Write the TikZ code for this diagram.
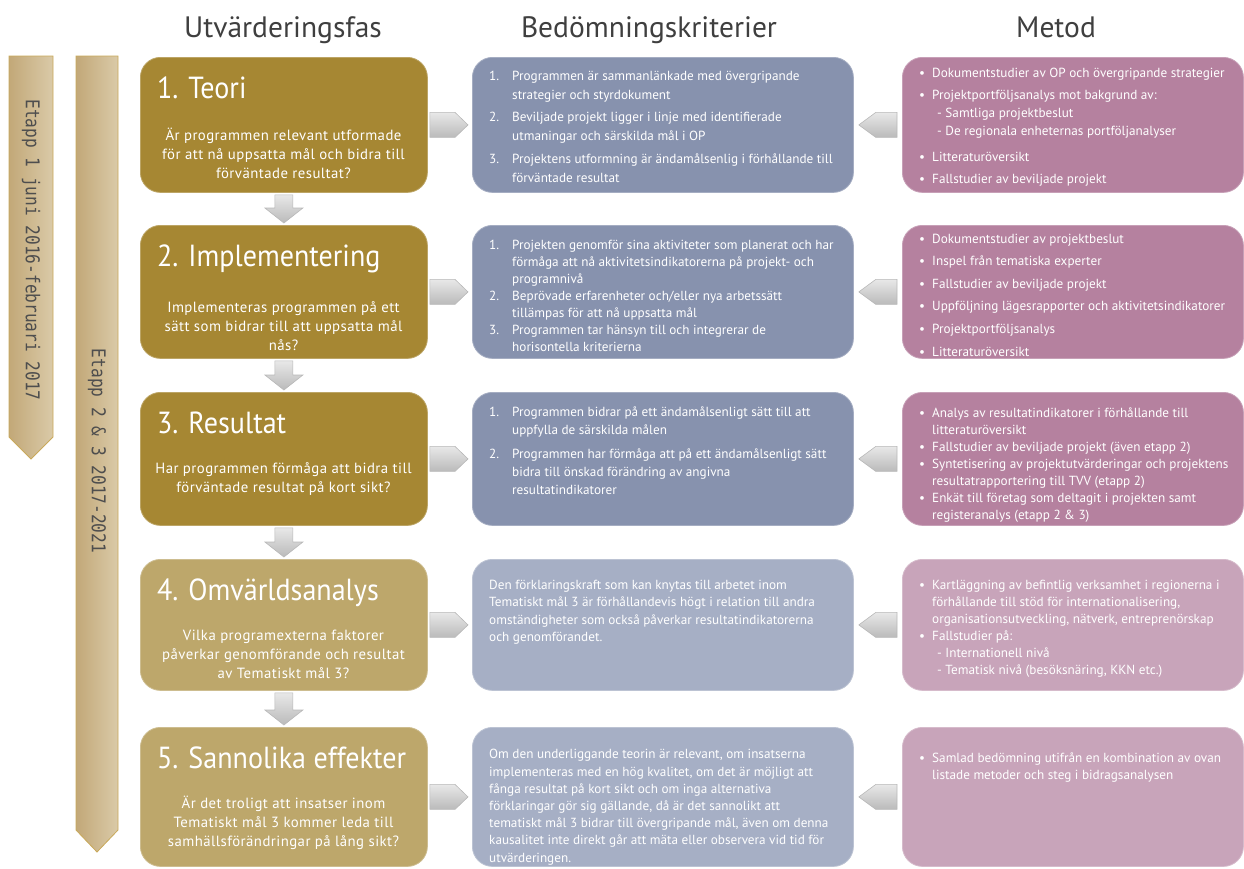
\documentclass[tikz,border=0pt]{standalone}
\usepackage{fontspec}
\setmainfont{PT Sans}
\newfontfamily\headfont{PT Sans}
\newfontfamily\titlefont[FakeStretch=0.92]{PT Sans}
\newfontfamily\askfont[LetterSpace=3]{PT Sans}
\newfontfamily\etappfont[FakeStretch=0.85]{DejaVu Sans Mono}
\usepackage{tikz}
\usetikzlibrary{calc}

\definecolor{goldA}{HTML}{A68733}
\definecolor{goldB}{HTML}{BDA76B}
\definecolor{blueA}{HTML}{8792AE}
\definecolor{blueB}{HTML}{A6AFC5}
\definecolor{mauveA}{HTML}{B5819F}
\definecolor{mauveB}{HTML}{C8A4BA}
\definecolor{tanA}{HTML}{C2A878}
\definecolor{tanB}{HTML}{DACAA8}
\definecolor{tanline}{HTML}{C9A95A}
\definecolor{headgray}{HTML}{3F3F3F}
\definecolor{etappgray}{HTML}{4E4E4E}

\newcommand{\crititem}[2]{\makebox[23pt][l]{#1}#2}
\newcommand{\critcont}[1]{\hspace*{23pt}#1}
\newcommand{\metitem}[1]{\makebox[13pt][l]{\textbullet}#1}
\newcommand{\metcont}[1]{\hspace*{13pt}#1}

\begin{document}
\begin{tikzpicture}[x=1pt,y=-1pt,
	phase/.style={rounded corners=20pt,anchor=north west,inner sep=0pt,line width=0.8pt,minimum width=287pt},
	crit/.style={rounded corners=20pt,anchor=north west,inner sep=0pt,line width=0.8pt,minimum width=381pt},
	meth/.style={rounded corners=20pt,anchor=north west,inner sep=0pt,line width=0.8pt,minimum width=341pt},
	goldbox/.style={fill=#1,draw=#1!75!white},
	head/.style={anchor=base,text=headgray,font=\headfont\fontsize{29.5}{29.5}\selectfont},
	phasetitle/.style={anchor=base west,inner sep=0pt,text=white,font=\titlefont\fontsize{30.5}{30.5}\selectfont},
	ask/.style={anchor=base,inner sep=0pt,align=center,text=white,font=\askfont\fontsize{14.8}{19}\selectfont},
	boxtext/.style={anchor=base west,inner sep=0pt,align=left,text=white,font=\fontsize{13.2}{#1}\selectfont},
	etapp/.style={draw=tanline,line width=0.8pt,left color=tanA,right color=tanB},
	etapptext/.style={rotate=-90,inner sep=0pt,text=etappgray,font=\etappfont\fontsize{19}{19}\selectfont},
	grayarrow/.style={top color=black!9,bottom color=black!27,draw=black!28,line width=0.6pt}]
	\useasboundingbox (0,0) rectangle (1244,868);
%
	\node[head] (h1) at (283,37) {Utvärderingsfas};
	\node[head] (h2) at (649,37) {Bedömningskriterier};
	\node[head] (h3) at (1056,37) {Metod};
%
	\path[etapp] (9,56) -- (53,56) -- (53,437) -- (31,459) -- (9,437) -- cycle;
	\path[etapp] (76,56) -- (118,56) -- (118,830) -- (97,852) -- (76,830) -- cycle;
	\node[etapptext] (e1) at (31,250) {Etapp 1 juni 2016-februari 2017};
	\node[etapptext] (e2) at (97,451) {Etapp 2 \& 3 2017-2021};
%
	\node[phase,goldbox=goldA,minimum height=135pt] (p1) at (140,57) {};
	\node[phase,goldbox=goldA,minimum height=133pt] (p2) at (140,225) {};
	\node[phase,goldbox=goldA,minimum height=133pt] (p3) at (140,392) {};
	\node[phase,goldbox=goldB,minimum height=131pt] (p4) at (140,559) {};
	\node[phase,goldbox=goldB,minimum height=139pt] (p5) at (140,727) {};
	\node[crit,goldbox=blueA,minimum height=135pt] (c1) at (472,57) {};
	\node[crit,goldbox=blueA,minimum height=133pt] (c2) at (472,225) {};
	\node[crit,goldbox=blueA,minimum height=133pt] (c3) at (472,392) {};
	\node[crit,goldbox=blueB,minimum height=131pt] (c4) at (472,559) {};
	\node[crit,goldbox=blueB,minimum height=139pt] (c5) at (472,727) {};
	\node[meth,goldbox=mauveA,minimum height=135pt] (m1) at (902,57) {};
	\node[meth,goldbox=mauveA,minimum height=133pt] (m2) at (902,225) {};
	\node[meth,goldbox=mauveA,minimum height=133pt] (m3) at (902,392) {};
	\node[meth,goldbox=mauveB,minimum height=131pt] (m4) at (902,559) {};
	\node[meth,goldbox=mauveB,minimum height=139pt] (m5) at (902,727) {};
%
	\node[phasetitle] (t1) at (157,98) {1. Teori};
	\node[phasetitle] (t2) at (157,266) {2. Implementering};
	\node[phasetitle] (t3) at (157,433) {3. Resultat};
	\node[phasetitle] (t4) at (157,600) {4. Omvärldsanalys};
	\node[phasetitle] (t5) at (157,768) {5. Sannolika effekter};
	% base of a multi-line node = last line
	\node[ask] (q1) at (283.5,178) {Är programmen relevant utformade\\för att nå uppsatta mål och bidra till\\förväntade resultat?};
	\node[ask] (q2) at (283.5,350) {Implementeras programmen på ett\\sätt som bidrar till att uppsatta mål\\nås?};
	\node[ask] (q3) at (283.5,492) {Har programmen förmåga att bidra till\\förväntade resultat på kort sikt?};
	\node[ask] (q4) at (283.5,678) {Vilka programexterna faktorer\\påverkar genomförande och resultat\\av Tematiskt mål 3?};
	\node[ask] (q5) at (283.5,846) {Är det troligt att insatser inom\\Tematiskt mål 3 kommer leda till\\samhällsförändringar på lång sikt?};
%
	\node[boxtext=19] (ct1) at (489,182) {\crititem{1.}{Programmen är sammanlänkade med övergripande}\\
		\critcont{strategier och styrdokument}\\[3.5pt]
		\crititem{2.}{Beviljade projekt ligger i linje med identifierade}\\
		\critcont{utmaningar och särskilda mål i OP}\\[3.5pt]
		\crititem{3.}{Projektens utformning är ändamålsenlig i förhållande till}\\
		\critcont{förväntade resultat}};
	\node[boxtext=17] (ct2) at (489,351) {\crititem{1.}{Projekten genomför sina aktiviteter som planerat och har}\\
		\critcont{förmåga att nå aktivitetsindikatorerna på projekt- och}\\
		\critcont{programnivå}\\
		\crititem{2.}{Beprövade erfarenheter och/eller nya arbetssätt}\\
		\critcont{tillämpas för att nå uppsatta mål}\\
		\crititem{3.}{Programmen tar hänsyn till och integrerar de}\\
		\critcont{horisontella kriterierna}};
	\node[boxtext=18] (ct3) at (489,494) {\crititem{1.}{Programmen bidrar på ett ändamålsenligt sätt till att}\\
		\critcont{uppfylla de särskilda målen}\\[6pt]
		\crititem{2.}{Programmen har förmåga att på ett ändamålsenligt sätt}\\
		\critcont{bidra till önskad förändring av angivna}\\
		\critcont{resultatindikatorer}};
	\node[boxtext=17.5] (ct4) at (489,641.5) {Den förklaringskraft som kan knytas till arbetet inom\\
		Tematiskt mål 3 är förhållandevis högt i relation till andra\\
		omständigheter som också påverkar resultatindikatorerna\\
		och genomförandet.};
	\node[boxtext=17.2] (ct5) at (489,862) {Om den underliggande teorin är relevant, om insatserna\\
		implementeras med en hög kvalitet, om det är möjligt att\\
		fånga resultat på kort sikt och om inga alternativa\\
		förklaringar gör sig gällande, då är det sannolikt att\\
		tematiskt mål 3 bidrar till övergripande mål, även om denna\\
		kausalitet inte direkt går att mäta eller observera vid tid för\\
		utvärderingen.};
%
	\node[boxtext=18] (mt1) at (919,183) {\metitem{Dokumentstudier av OP och övergripande strategier}\\[4pt]
		\metitem{Projektportföljsanalys mot bakgrund av:}\\
		\hspace*{18pt}- Samtliga projektbeslut\\
		\hspace*{18pt}- De regionala enheternas portföljanalyser\\[8pt]
		\metitem{Litteraturöversikt}\\[4pt]
		\metitem{Fallstudier av beviljade projekt}};
	\node[boxtext=22.6] (mt2) at (919,356) {\metitem{Dokumentstudier av projektbeslut}\\
		\metitem{Inspel från tematiska experter}\\
		\metitem{Fallstudier av beviljade projekt}\\
		\metitem{Uppföljning lägesrapporter och aktivitetsindikatorer}\\
		\metitem{Projektportföljsanalys}\\
		\metitem{Litteraturöversikt}};
	\node[boxtext=17] (mt3) at (919,519) {\metitem{Analys av resultatindikatorer i förhållande till}\\
		\metcont{litteraturöversikt}\\
		\metitem{Fallstudier av beviljade projekt (även etapp 2)}\\
		\metitem{Syntetisering av projektutvärderingar och projektens}\\
		\metcont{resultatrapportering till TVV (etapp 2)}\\
		\metitem{Enkät till företag som deltagit i projekten samt}\\
		\metcont{registeranalys (etapp 2 \& 3)}};
	\node[boxtext=17] (mt4) at (919,674) {\metitem{Kartläggning av befintlig verksamhet i regionerna i}\\
		\metcont{förhållande till stöd för internationalisering,}\\
		\metcont{organisationsutveckling, nätverk, entreprenörskap}\\
		\metitem{Fallstudier på:}\\
		\hspace*{18pt}- Internationell nivå\\
		\hspace*{18pt}- Tematisk nivå (besöksnäring, KKN etc.)};
	\node[boxtext=17] (mt5) at (919,779) {\metitem{Samlad bedömning utifrån en kombination av ovan}\\
		\metcont{listade metoder och steg i bidragsanalysen}};
%
	\foreach \i in {1,...,5}{
		\path[grayarrow] ($(p\i.east)+(2,-12.5)$) -- ($(c\i.west)+(-17,-12.5)$) -- ($(c\i.west)+(-4,0)$)
			-- ($(c\i.west)+(-17,12.5)$) -- ($(p\i.east)+(2,12.5)$) -- cycle;
		\path[grayarrow] ($(m\i.west)+(-5,-12.5)$) -- ($(c\i.east)+(22,-12.5)$) -- ($(c\i.east)+(5,0)$)
			-- ($(c\i.east)+(22,12.5)$) -- ($(m\i.west)+(-5,12.5)$) -- cycle;
	}
	\foreach \i/\j in {1/2,2/3,3/4,4/5}
		\path[grayarrow] ($(p\i.south)+(-9,2)$) -- ($(p\i.south)+(9,2)$) -- ($(p\j.north)+(9,-17)$)
			-- ($(p\j.north)+(19,-17)$) -- ($(p\j.north)+(0,-2)$) -- ($(p\j.north)+(-19,-17)$)
			-- ($(p\j.north)+(-9,-17)$) -- cycle;
\end{tikzpicture}
\end{document}
